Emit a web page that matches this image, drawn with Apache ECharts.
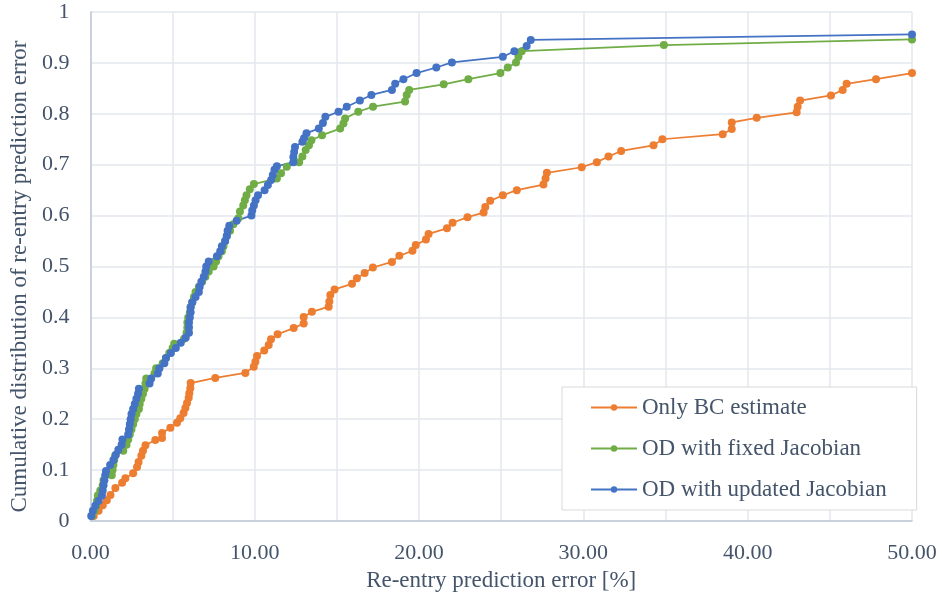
<!DOCTYPE html>
<html>
<head>
<meta charset="utf-8">
<script src="https://cdn.jsdelivr.net/npm/echarts@6/dist/echarts.min.js"></script>
<style>html,body{margin:0;padding:0;background:#fff;}#c{width:942px;height:600px;}</style>
</head>
<body>
<div id="c"></div>
<script>
var seriesNames = ['Only BC estimate', 'OD with fixed Jacobian', 'OD with updated Jacobian'];
var xTickLabels = ['0.00', '10.00', '20.00', '30.00', '40.00', '50.00'];
var yTickLabels = ['0', '0.1', '0.2', '0.3', '0.4', '0.5', '0.6', '0.7', '0.8', '0.9', '1'];

var onlyBC = [[0.2,0.010],[0.5,0.020],[0.75,0.031],[1.0,0.041],[1.22,0.051],[1.52,0.065],[1.93,0.075],[2.13,0.084],[2.6,0.094],[2.84,0.106],[2.93,0.116],[3.1,0.128],[3.2,0.138],[3.35,0.149],[3.95,0.159],[4.36,0.163],[4.36,0.173],[4.87,0.183],[5.27,0.193],[5.47,0.202],[5.67,0.212],[5.78,0.222],[5.88,0.232],[5.98,0.242],[6.02,0.251],[6.08,0.261],[6.1,0.271],[7.6,0.281],[9.43,0.291],[9.94,0.303],[10.04,0.313],[10.14,0.324],[10.58,0.335],[10.85,0.346],[10.99,0.357],[11.39,0.367],[12.37,0.379],[12.98,0.388],[12.98,0.401],[13.48,0.411],[14.5,0.421],[14.54,0.431],[14.6,0.444],[14.86,0.455],[15.92,0.466],[16.22,0.477],[16.69,0.487],[17.19,0.498],[18.35,0.509],[18.8,0.521],[19.6,0.531],[19.8,0.542],[20.42,0.553],[20.58,0.564],[21.7,0.575],[22.04,0.586],[22.95,0.597],[23.93,0.606],[24.03,0.617],[24.33,0.629],[25.1,0.640],[25.95,0.650],[27.57,0.661],[27.7,0.673],[27.78,0.684],[29.9,0.695],[30.82,0.705],[31.53,0.716],[32.3,0.727],[34.27,0.738],[34.81,0.750],[38.48,0.760],[39.03,0.770],[39.03,0.783],[40.55,0.792],[42.98,0.803],[43.04,0.814],[43.19,0.826],[45.07,0.836],[45.78,0.847],[46.02,0.859],[47.81,0.868],[50.0,0.880]];

var fixedJac = [[0.1,0.010],[0.25,0.020],[0.35,0.030],[0.4,0.040],[0.45,0.050],[0.6,0.060],[0.75,0.070],[0.8,0.080],[1.3,0.090],[1.35,0.100],[1.4,0.110],[1.45,0.120],[1.5,0.128],[2.0,0.138],[2.2,0.150],[2.3,0.160],[2.4,0.170],[2.5,0.180],[2.6,0.190],[2.7,0.200],[2.8,0.210],[2.95,0.220],[3.0,0.230],[3.1,0.240],[3.2,0.250],[3.3,0.260],[3.35,0.270],[3.4,0.280],[3.9,0.290],[4.0,0.300],[4.4,0.310],[4.6,0.320],[4.8,0.330],[5.0,0.340],[5.1,0.348],[5.7,0.358],[5.85,0.370],[5.9,0.380],[5.9,0.390],[5.95,0.400],[6.05,0.410],[6.1,0.420],[6.2,0.430],[6.3,0.440],[6.4,0.450],[6.6,0.460],[6.8,0.470],[7.0,0.480],[7.2,0.490],[7.5,0.500],[7.65,0.510],[7.8,0.520],[8.0,0.530],[8.1,0.540],[8.2,0.550],[8.3,0.560],[8.5,0.570],[8.7,0.583],[9.0,0.595],[9.1,0.608],[9.3,0.620],[9.4,0.630],[9.5,0.640],[9.7,0.652],[9.95,0.662],[11.35,0.673],[11.6,0.683],[11.95,0.696],[12.7,0.705],[12.9,0.716],[13.1,0.729],[13.3,0.738],[13.45,0.748],[14.1,0.758],[15.2,0.771],[15.4,0.781],[15.5,0.791],[16.3,0.804],[17.2,0.814],[19.15,0.824],[19.25,0.837],[19.4,0.847],[21.5,0.858],[23.0,0.868],[24.95,0.880],[25.4,0.891],[25.9,0.901],[26.05,0.912],[26.25,0.923],[34.9,0.935],[50,0.946]];

var updatedJac = [[0.05,0.010],[0.15,0.020],[0.3,0.030],[0.5,0.040],[0.7,0.050],[0.75,0.060],[0.8,0.070],[0.85,0.080],[0.9,0.090],[0.95,0.098],[1.2,0.110],[1.4,0.120],[1.55,0.130],[1.7,0.140],[1.9,0.150],[1.95,0.160],[2.3,0.170],[2.35,0.180],[2.4,0.190],[2.45,0.200],[2.5,0.210],[2.6,0.220],[2.7,0.230],[2.8,0.240],[2.9,0.250],[2.95,0.260],[3.6,0.270],[3.7,0.280],[4.1,0.290],[4.2,0.300],[4.5,0.310],[4.6,0.320],[4.9,0.330],[5.2,0.340],[5.5,0.350],[5.8,0.360],[6.0,0.370],[6.0,0.380],[6.0,0.390],[6.05,0.400],[6.1,0.410],[6.1,0.420],[6.2,0.430],[6.4,0.440],[6.6,0.450],[6.65,0.460],[6.75,0.470],[6.9,0.480],[7.0,0.490],[7.05,0.500],[7.2,0.510],[7.7,0.520],[7.9,0.530],[8.0,0.540],[8.2,0.550],[8.3,0.560],[8.35,0.570],[8.45,0.580],[8.9,0.590],[9.8,0.600],[9.85,0.610],[9.95,0.620],[10.05,0.630],[10.2,0.640],[10.6,0.650],[10.8,0.660],[11.0,0.670],[11.1,0.680],[11.2,0.690],[11.35,0.697],[12.35,0.705],[12.35,0.715],[12.4,0.725],[12.45,0.735],[12.9,0.745],[13.0,0.752],[13.15,0.762],[13.9,0.771],[14.15,0.782],[14.3,0.794],[15.1,0.804],[15.6,0.814],[16.4,0.826],[17.1,0.837],[18.35,0.847],[18.55,0.859],[19.05,0.868],[19.85,0.880],[21.05,0.891],[22.0,0.901],[25.1,0.912],[25.8,0.923],[26.55,0.933],[26.8,0.945],[50,0.956]];

var colors = ['#ED7D31', '#70AD47', '#4472C4'];
var textColor = '#44546A';
var fontFam = '"Liberation Serif", "Times New Roman", serif';

var chart = echarts.init(document.getElementById('c'), null, {renderer: 'canvas'});

function mkSeries(name, data, color) {
  return {
    name: name, type: 'line', data: data,
    symbol: 'circle', symbolSize: 8, showSymbol: true,
    lineStyle: {color: color, width: 1.75},
    itemStyle: {color: color},
    animation: false
  };
}

chart.setOption({
  animation: false,
  color: colors,
  grid: {left: 90, right: 30, top: 12, bottom: 79, containLabel: false},
  legend: {
    orient: 'vertical', left: 562, top: 387,
    data: seriesNames,
    backgroundColor: '#ffffff',
    borderColor: '#D9D9D9', borderWidth: 1,
    padding: [9, 30, 9, 28],
    itemGap: 18, itemWidth: 46, itemHeight: 8,
    textStyle: {fontFamily: fontFam, fontSize: 23, color: textColor}
  },
  xAxis: {
    type: 'value', min: 0, max: 50, interval: 5,
    name: 'Re-entry prediction error [%]', nameLocation: 'middle', nameGap: 48,
    nameTextStyle: {fontFamily: fontFam, fontSize: 23, color: textColor},
    axisLine: {show: true, lineStyle: {color: '#BFC8D6', width: 1.5}},
    axisTick: {show: false},
    axisLabel: {
      margin: 21, fontFamily: fontFam, fontSize: 22, color: textColor,
      formatter: function (v) { return (Math.round(v) % 10 === 0) ? xTickLabels[Math.round(v) / 10] : ''; }
    },
    splitLine: {show: true, lineStyle: {color: '#E3E7EE', width: 1.5}}
  },
  yAxis: {
    type: 'value', min: 0, max: 1, interval: 0.1,
    name: 'Cumulative distribution of re-entry prediction error', nameLocation: 'middle', nameGap: 58,
    nameTextStyle: {fontFamily: fontFam, fontSize: 23, color: textColor, padding: [0, 20, 0, 0]},
    axisLine: {show: true, lineStyle: {color: '#BFC8D6', width: 1.5}},
    axisTick: {show: false},
    axisLabel: {
      margin: 21, fontFamily: fontFam, fontSize: 22, color: textColor,
      formatter: function (v) { return yTickLabels[Math.round(v * 10)]; }
    },
    splitLine: {show: true, lineStyle: {color: '#E3E7EE', width: 1.5}}
  },
  series: [
    mkSeries(seriesNames[0], onlyBC, colors[0]),
    mkSeries(seriesNames[1], fixedJac, colors[1]),
    mkSeries(seriesNames[2], updatedJac, colors[2])
  ]
});
</script>
</body>
</html>
